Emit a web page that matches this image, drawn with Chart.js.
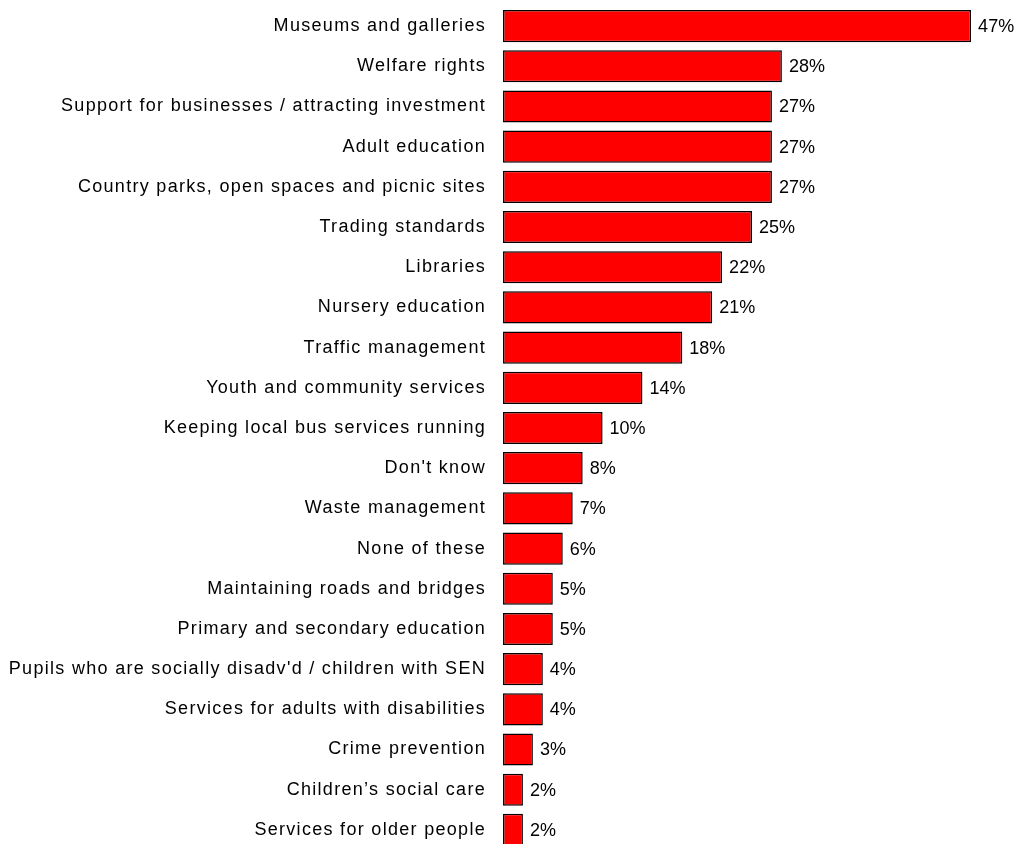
<!DOCTYPE html>
<html>
<head>
<meta charset="utf-8">
<script src="https://cdn.jsdelivr.net/npm/chart.js@4/dist/chart.umd.min.js"></script>
<style>
  html, body { margin: 0; padding: 0; background: #fff; overflow: hidden; }
  #wrap { width: 1015px; height: 844px; overflow: hidden; }
  canvas { display: block; }
</style>
</head>
<body>
<div id="wrap"><canvas id="chart" width="1015" height="856"></canvas></div>
<script>
const services = [
  "Museums and galleries",
  "Welfare rights",
  "Support for businesses / attracting investment",
  "Adult education",
  "Country parks, open spaces and picnic sites",
  "Trading standards",
  "Libraries",
  "Nursery education",
  "Traffic management",
  "Youth and community services",
  "Keeping local bus services running",
  "Don't know",
  "Waste management",
  "None of these",
  "Maintaining roads and bridges",
  "Primary and secondary education",
  "Pupils who are socially disadv'd / children with SEN",
  "Services for adults with disabilities",
  "Crime prevention",
  "Children\u2019s social care",
  "Services for older people"
];
const percentages = [47, 28, 27, 27, 27, 25, 22, 21, 18, 14, 10, 8, 7, 6, 5, 5, 4, 4, 3, 2, 2];

const FONT = "'Liberation Sans', Arial, sans-serif";

// Category labels are drawn with a little extra tracking; value labels without.
const trackingPlugin = {
  id: 'tracking',
  beforeDraw(chart) { chart.ctx.letterSpacing = '1.3px'; }
};

const valueLabels = {
  id: 'valueLabels',
  afterDatasetsDraw(chart) {
    const ctx = chart.ctx;
    ctx.save();
    ctx.letterSpacing = '0px';
    ctx.font = '18px ' + FONT;
    ctx.fillStyle = '#000';
    ctx.textAlign = 'left';
    ctx.textBaseline = 'middle';
    const meta = chart.getDatasetMeta(0);
    meta.data.forEach((bar, i) => {
      ctx.fillText(percentages[i] + '%', bar.x + 7, bar.y + 1);
    });
    ctx.restore();
  }
};

new Chart(document.getElementById('chart'), {
  type: 'bar',
  data: {
    labels: services,
    datasets: [{
      data: percentages,
      backgroundColor: '#ff0000',
      borderColor: '#000000',
      borderWidth: 1.5,
      borderSkipped: false,
      barPercentage: 0.8,
      categoryPercentage: 1.0
    }]
  },
  options: {
    indexAxis: 'y',
    responsive: false,
    animation: false,
    devicePixelRatio: 1,
    layout: { padding: { left: 0, right: 14, top: 6, bottom: 6 } },
    plugins: { legend: { display: false }, tooltip: { enabled: false } },
    scales: {
      x: {
        display: false,
        min: 0,
        max: 50
      },
      y: {
        afterFit(scale) {
          scale.width = 503;
          scale.paddingTop = 0;
          scale.paddingBottom = 0;
        },
        grid: { display: false, drawTicks: false },
        border: { display: false },
        ticks: {
          padding: 17,
          color: '#000',
          font: { family: FONT, size: 18 },
          autoSkip: false
        }
      }
    }
  },
  plugins: [trackingPlugin, valueLabels]
});
</script>
</body>
</html>
